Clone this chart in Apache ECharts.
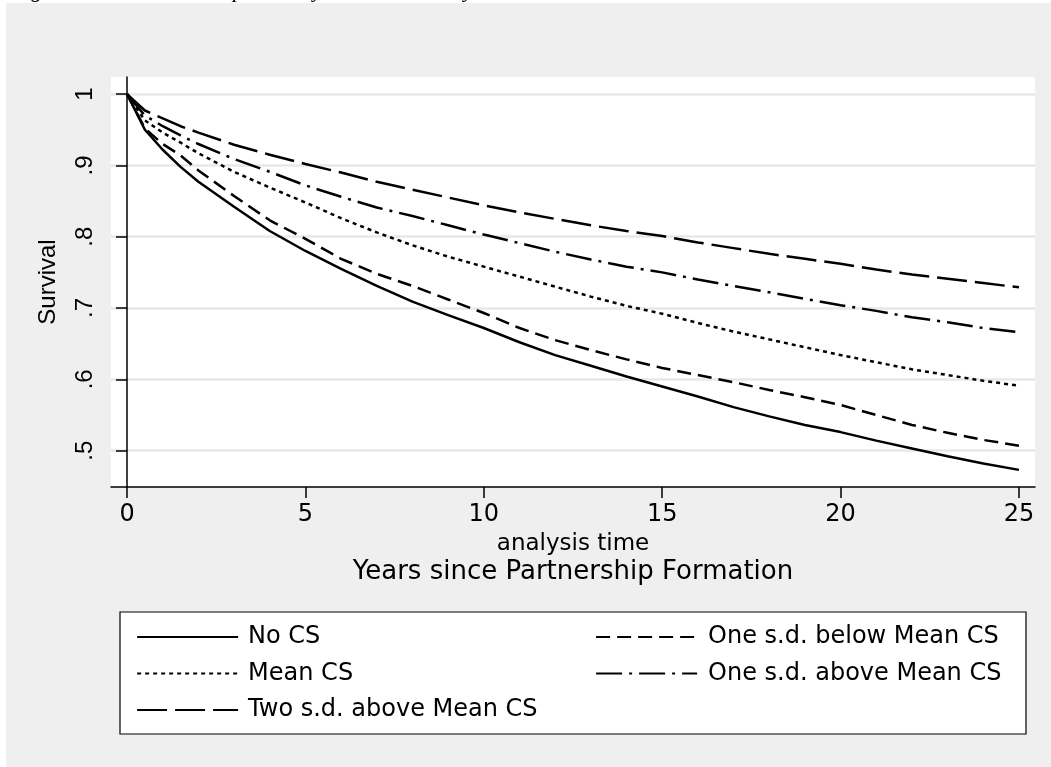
<!DOCTYPE html>
<html><head><meta charset="utf-8">
<script src="https://cdn.jsdelivr.net/npm/echarts@6/dist/echarts.min.js"></script>
<style>html,body{margin:0;padding:0;background:#fff}#c{width:1051px;height:767px}</style>
</head><body><div id="c"></div>
<script>
// ---- data ----
const times = [0, 0.5, 1, 1.5, 2, 3, 4, 5, 6, 7, 8, 9, 10, 11, 12, 13, 14, 15, 16, 17, 18, 19, 20, 21, 22, 23, 24, 25];
const noCS      = [1, 0.950, 0.922, 0.898, 0.877, 0.842, 0.808, 0.780, 0.755, 0.731, 0.709, 0.690, 0.672, 0.652, 0.634, 0.619, 0.604, 0.590, 0.576, 0.561, 0.548, 0.536, 0.526, 0.514, 0.503, 0.492, 0.482, 0.473];
const oneBelow  = [1, 0.952, 0.930, 0.914, 0.893, 0.857, 0.823, 0.797, 0.769, 0.748, 0.731, 0.712, 0.693, 0.672, 0.655, 0.641, 0.628, 0.616, 0.606, 0.596, 0.585, 0.575, 0.564, 0.550, 0.536, 0.525, 0.515, 0.507];
const meanCS    = [1, 0.963, 0.946, 0.932, 0.917, 0.891, 0.869, 0.848, 0.826, 0.806, 0.788, 0.772, 0.758, 0.744, 0.730, 0.716, 0.703, 0.692, 0.679, 0.667, 0.656, 0.645, 0.634, 0.624, 0.614, 0.606, 0.598, 0.591];
const oneAbove  = [1, 0.970, 0.955, 0.942, 0.930, 0.909, 0.891, 0.872, 0.856, 0.841, 0.829, 0.816, 0.803, 0.791, 0.779, 0.768, 0.758, 0.750, 0.740, 0.731, 0.722, 0.713, 0.704, 0.696, 0.687, 0.680, 0.672, 0.666];
const twoAbove  = [1, 0.977, 0.966, 0.955, 0.946, 0.929, 0.915, 0.902, 0.890, 0.877, 0.866, 0.855, 0.844, 0.834, 0.825, 0.816, 0.808, 0.801, 0.792, 0.784, 0.776, 0.769, 0.762, 0.754, 0.747, 0.741, 0.735, 0.729];
const seriesNames = ['No CS', 'One s.d. below Mean CS', 'Mean CS', 'One s.d. above Mean CS', 'Two s.d. above Mean CS'];
const xTicks = [0, 5, 10, 15, 20, 25];
const xTickLabels = ['0', '5', '10', '15', '20', '25'];
const yTicks = [0.5, 0.6, 0.7, 0.8, 0.9, 1];
const yTickLabels = ['.5', '.6', '.7', '.8', '.9', '1'];
const yTitle = 'Survival';
const xTitle = 'analysis time';
const xSubtitle = 'Years since Partnership Formation';
const caption = 'Figure 4: The Partnership Stability and Duration by CS';

// ---- chart ----
const WIDE = '"DejaVu Sans", Verdana, sans-serif';
const NARROW = '"Liberation Sans", Arial, sans-serif';
const chart = echarts.init(document.getElementById('c'), null, {renderer: 'canvas'});
const lbl = (ticks, labels) => v => { const i = ticks.findIndex(t => Math.abs(t - v) < 1e-6); return i < 0 ? '' : labels[i]; };
const dashes = {
  'No CS': 'solid',
  'One s.d. below Mean CS': [14, 7],
  'Mean CS': [4, 4],
  'One s.d. above Mean CS': [26, 7, 3, 7],
  'Two s.d. above Mean CS': [30, 8]
};
const values = [noCS, oneBelow, meanCS, oneAbove, twoAbove];
const series = seriesNames.map((name, k) => ({
  name, type: 'line', symbol: 'none', silent: true,
  data: times.map((t, i) => [t, values[k][i]]),
  lineStyle: {color: '#000', width: 2.5, type: dashes[name]},
  itemStyle: {color: '#000'}
}));
const legendCommon = {
  orient: 'vertical', itemWidth: 101, itemHeight: 20, itemGap: 12.5,
  selectedMode: false,
  itemStyle: {opacity: 0, borderWidth: 0},
  lineStyle: {width: 2.2}
};
chart.setOption({
  animation: false,
  backgroundColor: '#ffffff',
  graphic: [
    {type: 'text', x: 12, y: -20, z: -20, style: {text: caption, font: 'italic 22px "Liberation Serif", "Times New Roman", serif', fill: '#000', textVerticalAlign: 'top'}},
    {type: 'rect', z: -10, shape: {x: 6, y: 3, width: 1045, height: 764}, style: {fill: '#efefef'}},
    {type: 'rect', z: -5, shape: {x: 120, y: 612, width: 906, height: 122}, style: {fill: '#fff', stroke: '#000', lineWidth: 1.2}},
    {type: 'text', x: 573, y: 572, style: {text: xSubtitle, font: '26px ' + WIDE, fill: '#000', textAlign: 'center', textVerticalAlign: 'middle'}}
  ],
  grid: {left: 111, right: 16, top: 77, bottom: 280, show: true, backgroundColor: '#fff', borderWidth: 0, containLabel: false},
  xAxis: {
    type: 'value', min: -0.45, max: 25.45,
    name: xTitle, nameLocation: 'middle', nameGap: 46,
    nameTextStyle: {fontSize: 23, color: '#000', fontFamily: WIDE},
    axisLine: {show: true, lineStyle: {color: '#000', width: 1.5}},
    axisTick: {show: true, length: 11, customValues: xTicks, lineStyle: {color: '#000', width: 1.5}},
    axisLabel: {customValues: xTicks, formatter: lbl(xTicks, xTickLabels), fontSize: 24, color: '#000', fontFamily: WIDE, margin: 16},
    splitLine: {show: false}
  },
  yAxis: {
    type: 'value', min: 0.449, max: 1.024,
    name: yTitle, nameLocation: 'middle', nameGap: 51,
    nameTextStyle: {fontSize: 24, color: '#000', fontFamily: NARROW},
    axisLine: {show: true, lineStyle: {color: '#000', width: 1.5}},
    axisTick: {show: true, length: 11, customValues: yTicks, lineStyle: {color: '#000', width: 1.5}},
    axisLabel: {customValues: yTicks, formatter: lbl(yTicks, yTickLabels), rotate: 90, fontSize: 24, color: '#000', fontFamily: NARROW, margin: 14},
    splitLine: {show: true, lineStyle: {color: '#e8e8e8', width: 2.5}}
  },
  legend: [
    Object.assign({left: 131, top: 620, data: ['No CS', 'Mean CS', 'Two s.d. above Mean CS'],
      textStyle: {fontSize: 24, color: '#000', fontFamily: WIDE, padding: [0, 0, 0, 5]}}, legendCommon),
    Object.assign({left: 590, top: 620, data: ['One s.d. below Mean CS', 'One s.d. above Mean CS'],
      textStyle: {fontSize: 24, color: '#000', fontFamily: WIDE, padding: [0, 0, 0, 6]}}, legendCommon)
  ],
  series
});
</script></body></html>
